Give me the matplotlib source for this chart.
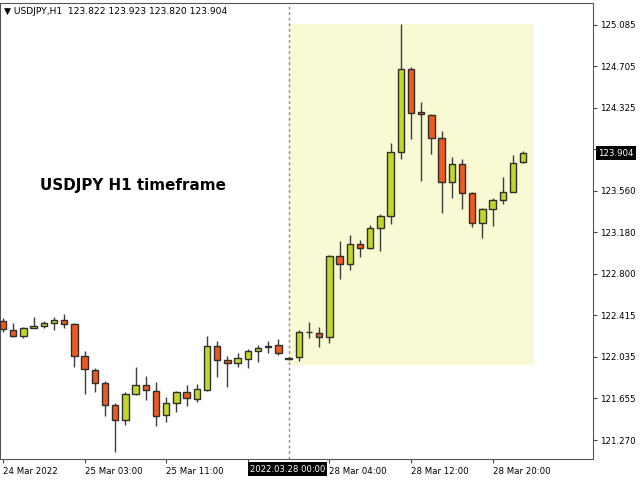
import numpy as np
import matplotlib
matplotlib.use('Agg')
import matplotlib.pyplot as plt
from matplotlib.patches import Rectangle

# USDJPY H1 candles
opens = [122.367, 122.282, 122.227, 122.303, 122.321, 122.343, 122.371, 122.340, 122.043, 121.914,
         121.792, 121.590, 121.454, 121.691, 121.773, 121.724, 121.498, 121.614, 121.712, 121.647,
         121.730, 122.132, 122.003, 121.976, 122.012, 122.091, 122.123, 122.141, 122.018, 122.031,
         122.259, 122.251, 122.215, 122.959, 122.888, 123.069, 123.038, 123.216, 123.327, 123.915,
         124.678, 124.283, 124.261, 124.044, 123.645, 123.805, 123.538, 123.262, 123.391, 123.474,
         123.547, 123.822]
highs = [122.392, 122.343, 122.312, 122.398, 122.367, 122.404, 122.426, 122.346, 122.089, 121.930,
         121.816, 121.614, 121.715, 121.939, 121.859, 121.801, 121.663, 121.724, 121.773, 121.783,
         122.227, 122.181, 122.045, 122.070, 122.107, 122.144, 122.181, 122.199, 122.036, 122.282,
         122.352, 122.306, 122.974, 123.100, 123.155, 123.109, 123.247, 123.348, 124.003, 125.094,
         124.702, 124.375, 124.264, 124.114, 123.869, 123.851, 123.553, 123.406, 123.492, 123.685,
         123.890, 123.923]
lows = [122.263, 122.215, 122.205, 122.297, 122.297, 122.282, 122.297, 121.944, 121.691, 121.715,
        121.491, 121.163, 121.409, 121.684, 121.638, 121.402, 121.439, 121.525, 121.583, 121.623,
        121.718, 121.852, 121.761, 121.944, 121.935, 121.990, 122.068, 122.052, 122.006, 122.000,
        122.205, 122.123, 122.159, 122.748, 122.833, 122.950, 123.023, 123.011, 123.256, 123.853,
        124.034, 123.654, 123.897, 123.360, 123.492, 123.391, 123.231, 123.130, 123.240, 123.437,
        123.547, 123.820]
closes = [122.288, 122.227, 122.303, 122.321, 122.346, 122.371, 122.337, 122.043, 121.920, 121.792,
          121.590, 121.454, 121.691, 121.773, 121.726, 121.491, 121.614, 121.709, 121.654, 121.737,
          122.132, 122.003, 121.978, 122.022, 122.086, 122.119, 122.135, 122.073, 122.022, 122.261,
          122.259, 122.215, 122.962, 122.891, 123.069, 123.038, 123.219, 123.329, 123.915, 124.678,
          124.279, 124.264, 124.044, 123.645, 123.805, 123.538, 123.268, 123.391, 123.477, 123.553,
          123.819, 123.904]

price_ticks = [125.085, 124.705, 124.325, 123.945, 123.560, 123.180, 122.800, 122.415, 122.035, 121.655, 121.270]
time_ticks = [0, 8, 16, 24, 32, 40, 48]
time_labels = ['24 Mar 2022', '25 Mar 03:00', '25 Mar 11:00', '', '28 Mar 04:00', '28 Mar 12:00', '28 Mar 20:00']

o = np.array(opens)
h = np.array(highs)
l = np.array(lows)
c = np.array(closes)
x = np.arange(len(o))

fig = plt.figure(figsize=(6.4, 4.8), dpi=100)
ax = fig.add_axes([0, 21 / 480, 593 / 640, 456 / 480])

# highlighted session
ax.add_patch(Rectangle((28.0, 121.960), 24.05, 125.094 - 121.960, facecolor='#f9f9d3', edgecolor='none', zorder=0))
ax.axvline(28, color='#8a8a8a', lw=1, ls=(0, (2, 2)), zorder=1)

up = c >= o
ax.vlines(x, l, h, color='#3c3c3c', lw=1, zorder=2)
body = np.maximum(np.abs(c - o), 0.004)
ax.bar(x, body, bottom=np.minimum(o, c), width=0.62,
       color=np.where(up, '#c2d62b', '#f05a1e'), edgecolor='#2e2e2e', lw=1, zorder=3)

ax.set_xlim(-0.29, 57.84)
ax.set_ylim(121.096, 125.287)

ax.yaxis.tick_right()
ax.set_yticks(price_ticks)
ax.set_yticklabels(['%.3f' % p for p in price_ticks])
ax.set_xticks(time_ticks)
ax.set_xticklabels(time_labels, ha='left')
ax.tick_params(axis='both', labelsize=6.2, length=3, color='#444', labelcolor='black', pad=2)
ax.tick_params(axis='x', pad=3)
for t in ax.get_xticklabels():
    t.set_x(t.get_position()[0])
for s in ax.spines.values():
    s.set_color('#555')

fig.text(4 / 640, 1 - 12 / 480, '\u25bc USDJPY,H1  123.822 123.923 123.820 123.904', fontsize=6.6, va='center')
fig.text(40 / 640, 1 - 185 / 480, 'USDJPY H1 timeframe', fontsize=10.9, fontweight='bold', va='center')

# crosshair / last price labels
fig.text(250 / 640, 1 - 469 / 480, '2022.03.28 00:00', fontsize=6.1, color='white', va='center',
         bbox=dict(facecolor='black', edgecolor='none', pad=1.5))
fig.text(598 / 640, 1 - 153 / 480, '123.904', fontsize=6.2, color='white', va='center',
         bbox=dict(facecolor='black', edgecolor='none', pad=1.5))

plt.savefig('out.png', dpi=100)
